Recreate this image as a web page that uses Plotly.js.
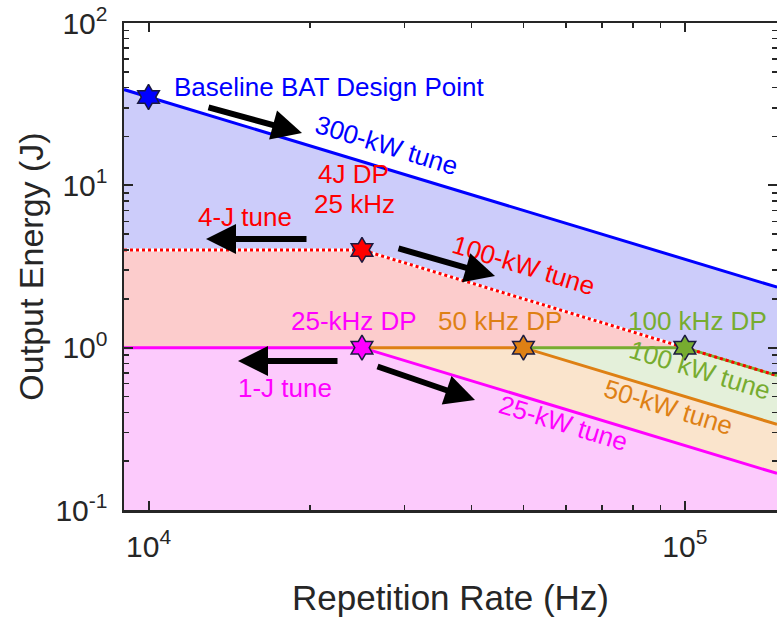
<!DOCTYPE html>
<html><head><meta charset="utf-8">
<script src="https://cdn.plot.ly/plotly-3.0.1.min.js"></script>
<style>html,body{margin:0;padding:0;background:#fff}</style>
</head><body><div id="chart" style="width:777px;height:620px"></div>
<script>
// ---- data ----
const tune300X = [9000, 10000, 148500];
const tune300Y = [38.9, 35, 2.36];
const tune4JX = [9000, 25000, 148500];
const tune4JY = [4, 4, 0.673];
const tune1JX = [9000, 25000, 148500];
const tune1JY = [1, 1, 0.168];
const tune50X = [25000, 50000, 148500];
const tune50Y = [1, 1, 0.337];
const tune100X = [50000, 100000, 148500];
const tune100Y = [1, 1, 0.673];
const dpX = [10000, 25000, 25000, 50000, 100000];
const dpY = [35, 4, 1, 1, 1];
const floorY = 0.1;
const xRange = [9000, 148500];
const yRange = [0.1, 100];
const xTickVals = [10000, 100000];
const xTickText = ['10<sup>4</sup>', '10<sup>5</sup>'];
const yTickVals = [0.1, 1, 10, 100];
const yTickText = ['10<sup>-1</sup>', '10<sup>0</sup>', '10<sup>1</sup>', '10<sup>2</sup>'];

// ---- styles ----
const FONT = 'Liberation Sans, Arial, sans-serif';
const AX = '#262626';
const BLUE = 'rgb(0,0,255)', RED = 'rgb(255,0,0)', MAG = 'rgb(255,0,255)',
      ORG = 'rgb(222,128,20)', GRN = 'rgb(119,172,48)';
const dpColors = [BLUE, RED, MAG, ORG, GRN];

function band(xs, ys, color) {
  return {x: xs.concat([xs[xs.length-1], xs[0]]), y: ys.concat([floorY, floorY]),
    type: 'scatter', mode: 'lines', fill: 'toself', fillcolor: color,
    line: {width: 0}, hoverinfo: 'skip', showlegend: false};
}
function line(xs, ys, color, width, dash) {
  return {x: xs, y: ys, type: 'scatter', mode: 'lines',
    line: {color: color, width: width, dash: dash || 'solid'}, showlegend: false, hoverinfo: 'skip'};
}

const traces = [
  band(tune300X, tune300Y, 'rgb(204,204,250)'),
  band(tune4JX, tune4JY, 'rgb(252,204,204)'),
  band(tune100X, tune100Y, 'rgb(228,240,218)'),
  band(tune50X, tune50Y, 'rgb(250,228,204)'),
  band(tune1JX, tune1JY, 'rgb(252,202,252)'),
  line(tune300X, tune300Y, BLUE, 3),
  line(tune4JX, tune4JY, '#ffffff', 3),
  line(tune1JX, tune1JY, MAG, 3),
  line(tune50X, tune50Y, ORG, 3),
  line(tune100X, tune100Y, GRN, 3),
  line(tune4JX, tune4JY, RED, 3, 'dot'),
  {x: dpX, y: dpY, type: 'scatter', mode: 'markers', showlegend: false,
   marker: {symbol: 'hexagram', size: 19, color: dpColors, line: {color: '#1a1a40', width: 1.5}}},
  {x: [], y: [], type: 'scatter', yaxis: 'y2', showlegend: false, hoverinfo: 'skip'}
];

// pixel -> paper helper for label placement
const L = 124, R = 777, T = 23, B = 510;
function P(px, py) { return {x: (px - L) / (R - L), y: (B - py) / (B - T)}; }

function label(text, px, py, color, angle, anchor) {
  const p = P(px, py);
  return {xref: 'paper', yref: 'paper', x: p.x, y: p.y, text: text, showarrow: false,
    xanchor: anchor || 'center', yanchor: 'middle', textangle: angle || 0,
    font: {family: FONT, size: 26, color: color}};
}
function arrow(tx, ty, hx, hy) {
  const p = P(hx, hy);
  return {xref: 'paper', yref: 'paper', x: p.x, y: p.y, ax: tx - hx, ay: ty - hy,
    axref: 'pixel', ayref: 'pixel', text: '', showarrow: true, arrowhead: 2,
    arrowsize: 1.0, arrowwidth: 6, arrowcolor: '#000', standoff: 0, startstandoff: 0};
}

const annotations = [
  label('Baseline BAT Design Point', 172, 87, BLUE, 0, 'left'),
  label('300-kW tune', 386, 145, BLUE, 17),
  label('4J DP', 353, 174, RED),
  label('25 kHz', 354, 204, RED),
  label('4-J tune', 245, 217, RED),
  label('100-kW tune', 523, 265, RED, 17),
  label('25-kHz DP', 354, 321, MAG),
  label('50 kHz DP', 500, 321, ORG),
  label('100 kHz DP', 697, 321, GRN),
  label('1-J tune', 285, 388, MAG),
  label('100 kW tune', 700, 370, GRN, 17),
  label('50-kW tune', 668, 407, ORG, 17),
  label('25-kW tune', 563, 423, MAG, 17),
  arrow(207, 107, 302, 133),
  arrow(308, 239, 206, 239),
  arrow(397, 248, 495, 276),
  arrow(339, 361, 238, 361),
  arrow(376, 366, 475, 400)
];

const axisCommon = {
  type: 'log', tickmode: 'array', showgrid: false, zeroline: false,
  showline: true, linecolor: AX, linewidth: 2.5,
  ticks: 'inside', ticklen: 9, tickwidth: 2, tickcolor: AX,
  tickfont: {family: FONT, size: 30, color: AX},
  minor: {ticks: 'inside', ticklen: 5, tickwidth: 1.5, tickcolor: AX, showgrid: false, dtick: 'D1'}
};

const layout = {
  width: 777, height: 620,
  margin: {l: L, r: 777 - R, t: T, b: 620 - B, pad: 0},
  paper_bgcolor: '#fff', plot_bgcolor: '#fff', showlegend: false,
  xaxis: Object.assign({}, axisCommon, {
    range: [Math.log10(xRange[0]), Math.log10(xRange[1])],
    tickvals: xTickVals, ticktext: xTickText, mirror: 'ticks',
    ticklabelstandoff: 8,
    title: {text: 'Repetition Rate (Hz)', font: {family: FONT, size: 35, color: AX}, standoff: 24}
  }),
  yaxis: Object.assign({}, axisCommon, {
    range: [Math.log10(yRange[0]), Math.log10(yRange[1])],
    tickvals: yTickVals, ticktext: yTickText, mirror: false,
    ticklabelstandoff: 8,
    title: {text: 'Output Energy (J)', font: {family: FONT, size: 34, color: AX}, standoff: 2}
  }),
  yaxis2: Object.assign({}, axisCommon, {
    range: [Math.log10(yRange[0]), Math.log10(yRange[1])],
    tickvals: yTickVals, ticktext: yTickText,
    overlaying: 'y', side: 'right', anchor: 'x', showline: false, showticklabels: false
  }),
  annotations: annotations
};

Plotly.newPlot('chart', traces, layout, {displayModeBar: false, staticPlot: true});
</script></body></html>
